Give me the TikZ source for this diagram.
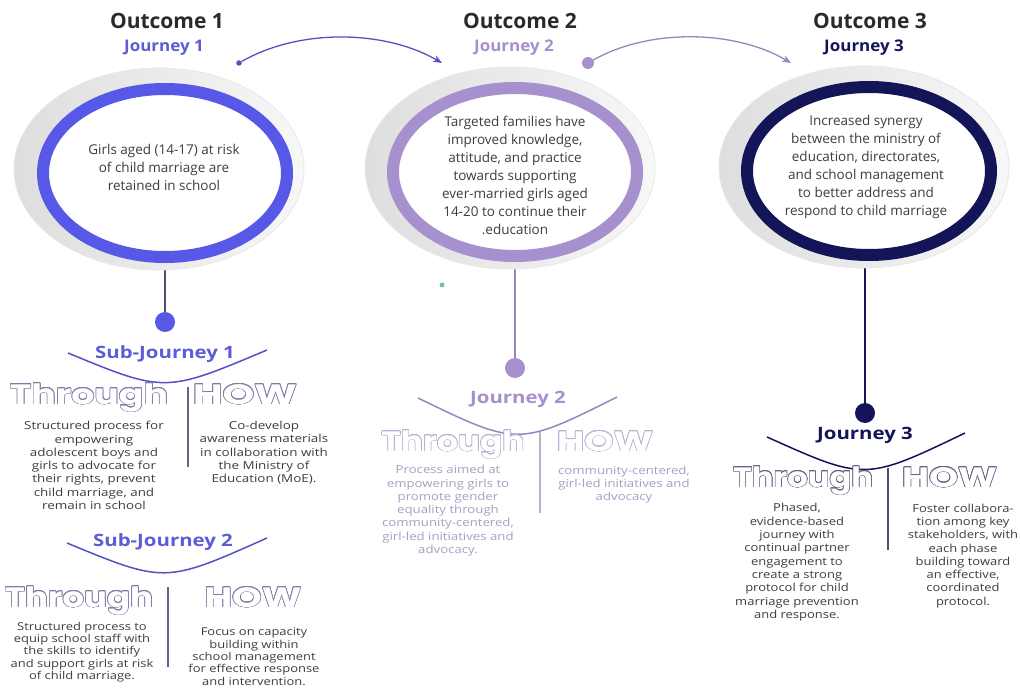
\documentclass[tikz,border=0pt]{standalone}
\usepackage{fontspec}
\setmainfont{Open Sans}
\newfontfamily\outfont{Poppins}
\usepackage{graphicx}
\usepackage{contour}
\usetikzlibrary{shapes.geometric,arrows.meta}

\definecolor{jblue}{RGB}{88,88,232}
\definecolor{jbluetext}{RGB}{92,92,214}
\definecolor{jblueline}{RGB}{82,82,196}
\definecolor{jlav}{RGB}{166,144,205}
\definecolor{jlavline}{RGB}{150,135,190}
\definecolor{jlavtext}{RGB}{168,158,196}
\definecolor{jlavout}{RGB}{185,176,210}
\definecolor{jnavy}{RGB}{20,20,88}
\definecolor{headgray}{RGB}{42,42,42}
\definecolor{bodygray}{RGB}{62,62,62}
\definecolor{slate}{RGB}{100,100,140}
\definecolor{slatedark}{RGB}{78,78,112}
\definecolor{outslate}{RGB}{125,125,165}
\definecolor{outdark}{RGB}{100,100,135}
\definecolor{tealdot}{RGB}{120,190,160}

\contourlength{0.5pt}
% hollow lettering: white glyphs ringed by a coloured contour, stretched to a width
\newcommand\hollow[3]{{\fontsize{28}{28}\selectfont\color{white}%
  \resizebox{#2pt}{\height}{\contour{#1}{\outfont\bfseries #3}}}}
% centred block of lines, widened horizontally
\newcommand\wtab[2]{\scalebox{#1}[1]{\begin{tabular}{@{}c@{}}#2\end{tabular}}}

\pgfdeclarelayer{bg}
\pgfsetlayers{bg,main}

\tikzset{
  heading/.style={font=\bfseries\fontsize{21}{21}\selectfont, text=headgray, inner sep=0, anchor=base},
  jtop/.style={font=\bfseries\fontsize{16}{16}\selectfont, inner sep=0, anchor=base},
  jsub/.style={font=\bfseries\fontsize{17}{17}\selectfont, inner sep=0, anchor=base},
  ringtext/.style={font=\fontsize{13.5}{18}\selectfont, text=bodygray, align=center, inner sep=0},
  body/.style={font=\fontsize{11}{13.3}\selectfont, text=bodygray, inner sep=0},
  bodytight/.style={font=\fontsize{10.8}{12.4}\selectfont, text=bodygray, inner sep=0},
  plate/.style={ellipse, minimum width=290, minimum height=202, inner sep=0,
    left color=black!13, right color=black!3, draw=black!9, line width=0.8},
  ring/.style={ellipse, minimum width=244, minimum height=168, inner sep=0,
    line width=12, fill=white},
  jdot/.style={circle, inner sep=0, minimum size=#1},
  hollowtext/.style={inner sep=0, anchor=base},
  arcline/.style={line width=1.5},
  divider/.style={line width=2},
  flow/.style={line width=1.3, -{Stealth[length=9,width=7]}},
}

\begin{document}
\begin{tikzpicture}[x=1pt,y=-1pt]
\useasboundingbox (0,0) rectangle (1020,690);

% ---------- outcome discs ----------
\node[plate] (p1) at (159,169) {};
\node[ring, draw=jblue] (r1) at (165,173) {};
\node[plate] (p2) at (510,168) {};
\node[ring, draw=jlav] (r2) at (515,172) {};
\node[plate] (p3) at (864,167) {};
\node[ring, draw=jnavy] (r3) at (869,171) {};

\node[ringtext] (c1t) at (164,167) {Girls aged (14-17) at risk\\of child marriage are\\retained in school};
\node[ringtext] (c2t) at (515,175) {Targeted families have\\improved knowledge,\\attitude, and practice\\towards supporting\\ever-married girls aged\\14-20 to continue their\\.education};
\node[ringtext] (c3t) at (866,167) {Increased synergy\\between the ministry of\\education, directorates,\\and school management\\to better address and\\respond to child marriage};

% ---------- headings ----------
\node[heading] (o1) at (167,28.5) {Outcome 1};
\node[heading] (o2) at (520,28.5) {Outcome 2};
\node[heading] (o3) at (870,28.5) {Outcome 3};
\node[jtop, text=jbluetext] (j1) at (164,52) {\scalebox{1.06}[1]{Journey 1}};
\node[jtop, text=jlav] (j2) at (514,52) {\scalebox{1.06}[1]{Journey 2}};
\node[jtop, text=jnavy] (j3) at (864,52) {\scalebox{1.06}[1]{Journey 3}};

% ---------- flow between outcomes ----------
\node[jdot=5.5, fill=jblueline] (a1s) at (239,63) {};
\coordinate (a1e) at (442,63);
\draw[flow, jblueline] (a1s) .. controls (300,28) and (385,30) .. (a1e);
\node[jdot=12, fill=jlav] (a2s) at (588,63) {};
\coordinate (a2e) at (791,63);
\draw[flow, jlavline] (a2s) .. controls (650,28) and (735,30) .. (a2e);

% ---------- stem dots ----------
\node[jdot=20, fill=jblue] (s1) at (165,322) {};
\node[jdot=20, fill=jlav] (s2) at (515,368) {};
\node[jdot=20, fill=jnavy] (s3) at (865,413) {};
\node[jdot=5, fill=tealdot] (tdot) at (442,285) {};

\begin{pgfonlayer}{bg}
  \fill[white] (0,0) rectangle (1020,690);
  \draw[slatedark, line width=1.6] (r1.center) -- (s1);
  \draw[jlavline, line width=1.6] (r2.center) -- (s2);
  \draw[jnavy, line width=1.6] (r3.center -| s3) -- (s3);
\end{pgfonlayer}

% ---------- Sub-Journey 1 ----------
\node[jsub, text=jbluetext] (sj1) at (165,358.5) {\scalebox{1.2}[1]{Sub-Journey 1}};
\draw[arcline, jblueline] (68,353) .. controls (165,393) .. (267,350);
\node[hollowtext] (th1) at (89,404) {\hollow{outslate}{158}{Through}};
\node[hollowtext] (hw1) at (245,404) {\hollow{outslate}{104}{HOW}};
\draw[divider, slate] (188,387) -- (188,467);
\node[body] (b1l) at (94,467) {\wtab{1.22}{Structured process for\\empowering\\adolescent boys and\\girls to advocate for\\their rights, prevent\\child marriage, and\\remain in school}};
\node[body] (b1r) at (264,453.5) {\wtab{1.22}{Co-develop\\awareness materials\\in collaboration with\\the Ministry of\\Education (MoE).}};

% ---------- Sub-Journey 2 ----------
\node[jsub, text=jbluetext] (sj2) at (163,546.5) {\scalebox{1.2}[1]{Sub-Journey 2}};
\draw[arcline, jblueline] (67,543) .. controls (165,583.5) .. (267,538);
\node[hollowtext] (th2) at (79,607) {\hollow{outslate}{148}{Through}};
\node[hollowtext] (hw2) at (253,607) {\hollow{outslate}{97}{HOW}};
\draw[divider, slate] (168,587) -- (168,667);
\node[bodytight] (b2l) at (82,652.5) {\wtab{1.2}{Structured process to\\equip school staff with\\the skills to identify\\and support girls at risk\\of child marriage.}};
\node[bodytight] (b2r) at (254,658) {\wtab{1.2}{Focus on capacity\\building within\\school management\\for effective response\\and intervention.}};

% ---------- Journey 2 ----------
\node[jsub, text=jlav] (jl2) at (518,403.5) {\scalebox{1.2}[1]{Journey 2}};
\draw[arcline, jlavline] (418,398) .. controls (518,446.5) .. (617,397);
\node[hollowtext] (th3) at (453,451) {\hollow{jlavout}{143}{Through}};
\node[hollowtext] (hw3) at (605,451) {\hollow{jlavout}{96}{HOW}};
\draw[divider, jlavout] (540,432) -- (540,513);
\node[body, text=jlavtext] (b3l) at (448,511) {\wtab{1.2}{Process aimed at\\empowering girls to\\promote gender\\equality through\\community-centered,\\girl-led initiatives and\\advocacy.}};
\node[body, text=jlavtext] (b3r) at (624,485) {\wtab{1.2}{community-centered,\\girl-led initiatives and\\advocacy}};

% ---------- Journey 3 ----------
\node[jsub, text=jnavy] (jl3) at (865,439.5) {\scalebox{1.2}[1]{Journey 3}};
\draw[arcline, jnavy] (767,437) .. controls (865,481) .. (965,433);
\node[hollowtext] (th4) at (803,487) {\hollow{outdark}{140}{Through}};
\node[hollowtext] (hw4) at (949.5,487) {\hollow{outdark}{95}{HOW}};
\draw[divider, slatedark] (888,468) -- (888,550);
\node[body] (b4l) at (797,562.5) {\wtab{1.18}{Phased,\\evidence-based\\journey with\\continual partner\\engagement to\\create a strong\\protocol for child\\marriage prevention\\and response.}};
\node[body] (b4r) at (963,556) {\wtab{1.18}{Foster collabora-\\tion among key\\stakeholders, with\\each phase\\building toward\\an effective,\\coordinated\\protocol.}};

\end{tikzpicture}
\end{document}
